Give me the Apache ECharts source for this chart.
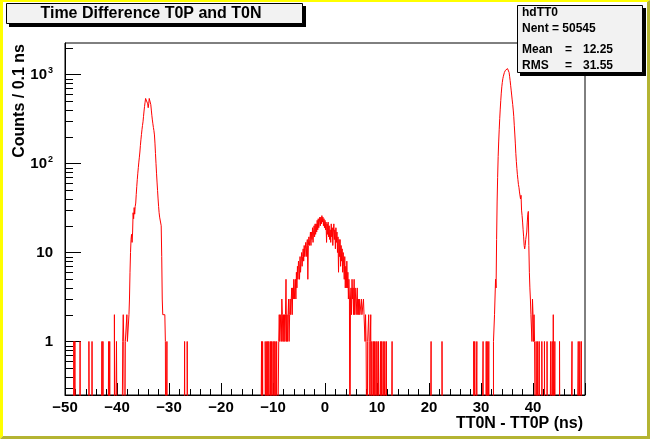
<!DOCTYPE html>
<html>
<head>
<meta charset="utf-8">
<script src="https://cdn.jsdelivr.net/npm/echarts@6/dist/echarts.min.js"></script>
<style>
html,body{margin:0;padding:0;background:#fff;}
#chart{width:650px;height:439px;}
</style>
</head>
<body>
<div id="chart"></div>
<script>
// ---- histogram definition (bins of 0.1 ns from -50 to 50) ----
const xEdgeMin = -50;
const xEdgeMax = 50;
const binWidth = 0.1;

// left peak (T0P side), counts per bin starting at low edge -38.9
const leftPeakStart = -38.9;
const leftPeakCounts = [
  1,2,1,1,0,1,1,1,2,1,1,1,2,3,6,10,14,16,13,17,
  28,24,32,27,33,36,45,55,66,78,90,104,118,135,160,185,212,240,268,295,
  340,390,440,490,540,565,540,520,470,425,470,540,565,520,460,400,350,310,280,255,
  235,210,170,130,100,78,62,50,40,33,28,25,26,24,20,9,3,2,2,2,
  2,2,1,0,0,1
];

// central bump, starting at low edge -12.2
const centerStart = -12.2;
const centerCounts = [
  1,0,1,0,0,0,0,1,1,0,1,0,1,0,1,1,0,1,0,1,
  1,0,1,0,1,0,1,1,0,1,0,0,0,1,2,1,2,2,1,3,
  2,1,2,1,2,1,2,5,1,2,1,2,3,1,2,3,2,2,4,2,
  4,3,5,3,4,5,3,6,4,7,5,8,7,5,9,6,8,10,7,9,
  11,8,12,9,11,13,9,12,14,5,12,15,12,14,17,12,17,14,19,13,
  17,20,15,21,16,21,17,23,18,24,19,22,25,20,25,21,26,22,25,20,
  24,19,23,18,22,13,21,16,22,15,20,14,18,13,21,15,19,12,17,21,
  14,18,11,19,13,17,10,15,6,14,9,14,7,12,8,11,6,10,7,5,
  9,4,7,4,8,4,6,3,5,3,0,3,4,2,5,3,4,2,5,2,
  4,3,2,3,4,2,3,2,3,2,2,2,3,2,2,2,3,2,2,1,
  2,1,1,0,1,1,2,1,0,1,2,0,1,1,0,1,0,1,1,0,
  1,0,1,1,0,1,1,0,0,1,0,1,1,0,1,0,0,1,1,0,
  1
];

// right peak (T0N side), starting at low edge 32.4
const rightPeakStart = 32.4;
const rightPeakCounts = [
  1,1,2,2,5,4,14,37,70,120,175,240,320,410,510,620,730,820,900,960,
  1010,1060,1100,1120,1140,1150,1160,1170,1190,1150,1060,960,860,760,670,590,520,460,400,340,
  270,215,170,130,105,88,75,66,58,54,48,50,40,44,30,26,22,18,15,12,
  11,12,14,14,17,22,27,29,12,6,4,3,2,2,1,3,2,1,2,1,
  1,0,1,1,0,1,1,0,1
];

// isolated bins (low edges) with one or two entries
const singleHitEdges = [
  -48.3,-48.1,-47.1,-45.4,-44.8,-42.9,-42.7,-41.6,-41.4,-40.1,-40.0,
  -27.0,-26.5,
  12.9,20.4,22.5,28.6,28.8,29.2,30.4,31.0,31.2,31.5,
  41.7,42.2,42.7,43.4,43.7,44.2,45.1,47.5,48.7,49.0,49.3
];
const doubleHitEdges = [-40.5, 43.9];

// y-axis (log) range and texts
const yMin = 0.25;
const yMax = 2270;
const statsLines = ['hdTT0', 'Nent = 50545'];
const statsRows = [['Mean', '=', '12.25'], ['RMS', '=', '31.55']];
const titleText = 'Time Difference T0P and T0N';
const xTitle = 'TT0N - TT0P (ns)';
const yTitle = 'Counts / 0.1 ns';

// ---- build bins ----
const nBins = Math.round((xEdgeMax - xEdgeMin) / binWidth);
const counts = new Array(nBins).fill(0);
const binIndex = e => Math.round((e - xEdgeMin) / binWidth);
function put(start, vals) { const i0 = binIndex(start); vals.forEach((v, k) => { counts[i0 + k] = v; }); }
put(leftPeakStart, leftPeakCounts);
put(centerStart, centerCounts);
put(rightPeakStart, rightPeakCounts);
singleHitEdges.forEach(e => { counts[binIndex(e)] = 1; });
doubleHitEdges.forEach(e => { counts[binIndex(e)] = 2; });

const EMPTY_BIN_DRAW = 0.01; // empty bins are drawn below the axis floor and clipped (as ROOT does)
const histData = counts.map((c, i) => [+(xEdgeMin + i * binWidth).toFixed(2), c > 0 ? c : EMPTY_BIN_DRAW]);
histData.push([xEdgeMax, histData[histData.length - 1][1]]);

// minor ticks 2..9 x 10^k on log axis
const yMinorTicks = [];
for (let k = -1; k <= 3; k++) {
  for (let m = 2; m <= 9; m++) {
    const v = m * Math.pow(10, k);
    if (v > yMin && v < yMax) yMinorTicks.push([xEdgeMin, v]);
  }
}

const FONT = "'Liberation Sans', Arial, Helvetica, sans-serif";
const chart = echarts.init(document.getElementById('chart'), null, { renderer: 'canvas' });

const W = 650, H = 439;
const graphics = [
  // canvas bevel border
  { type: 'polygon', z: 100, silent: true,
    shape: { points: [[0,0],[W,0],[W-3,2],[3,2],[3,H-3],[0,H]] }, style: { fill: '#ffff00' } },
  { type: 'polygon', z: 100, silent: true,
    shape: { points: [[W,0],[W,H],[0,H],[3,H-3],[W-3,H-3],[W-3,2]] }, style: { fill: '#b4b432' } },
  // title box
  { type: 'rect', z: 100, shape: { x: 9, y: 6, width: 297, height: 21 }, style: { fill: '#000' } },
  { type: 'rect', z: 101, shape: { x: 6.5, y: 3.5, width: 296, height: 20 }, style: { fill: '#f2f2f2', stroke: '#000', lineWidth: 1 } },
  { type: 'text', z: 102, x: 151, y: 14, style: { text: titleText, font: 'bold 16px ' + FONT, fill: '#000', align: 'center', verticalAlign: 'middle' } },
  // stats box
  { type: 'rect', z: 100, shape: { x: 520, y: 8, width: 126, height: 68 }, style: { fill: '#000' } },
  { type: 'rect', z: 101, shape: { x: 517.5, y: 5.5, width: 125, height: 67 }, style: { fill: '#f2f2f2', stroke: '#000', lineWidth: 1 } },
  { type: 'text', z: 102, x: 522, y: 13, style: { text: statsLines[0], font: 'bold 12px ' + FONT, fill: '#000', verticalAlign: 'middle' } },
  { type: 'text', z: 102, x: 522, y: 29, style: { text: statsLines[1], font: 'bold 12px ' + FONT, fill: '#000', verticalAlign: 'middle' } },
  // axis titles
  { type: 'text', z: 50, x: 583, y: 424, style: { text: xTitle, font: 'bold 16px ' + FONT, fill: '#000', align: 'right', verticalAlign: 'middle' } },
  { type: 'text', z: 50, x: 20, y: 44, rotation: Math.PI / 2, style: { text: yTitle, font: 'bold 16px ' + FONT, fill: '#000', align: 'right', verticalAlign: 'middle' } }
];
statsRows.forEach((row, r) => {
  const y = 50 + r * 16;
  graphics.push({ type: 'text', z: 102, x: 522, y, style: { text: row[0], font: 'bold 12px ' + FONT, fill: '#000', verticalAlign: 'middle' } });
  graphics.push({ type: 'text', z: 102, x: 565, y, style: { text: row[1], font: 'bold 12px ' + FONT, fill: '#000', verticalAlign: 'middle' } });
  graphics.push({ type: 'text', z: 102, x: 583, y, style: { text: row[2], font: 'bold 12px ' + FONT, fill: '#000', verticalAlign: 'middle' } });
});

chart.setOption({
  animation: false,
  backgroundColor: '#ffffff',
  grid: { left: 65, right: 65, top: 43, bottom: 44, show: true, borderColor: '#000', borderWidth: 1, backgroundColor: 'transparent' },
  xAxis: {
    type: 'value', min: xEdgeMin, max: xEdgeMax, interval: 10,
    axisLine: { show: true, onZero: false, lineStyle: { color: '#000', width: 1 } },
    axisTick: { show: true, inside: true, length: 12, lineStyle: { color: '#000' } },
    minorTick: { show: true, splitNumber: 5, length: 6, lineStyle: { color: '#000' } },
    splitLine: { show: false },
    axisLabel: {
      show: true, margin: 5, color: '#000', fontFamily: FONT, fontWeight: 'bold', fontSize: 15,
      showMaxLabel: false,
      formatter: v => (v >= xEdgeMax ? '' : String(v).replace('-', '\u2212'))
    }
  },
  yAxis: {
    type: 'log', logBase: 10, min: yMin, max: yMax,
    axisLine: { show: true, onZero: false, lineStyle: { color: '#000', width: 1 } },
    axisTick: { show: true, inside: true, length: 16, lineStyle: { color: '#000' } },
    minorTick: { show: false },
    splitLine: { show: false },
    axisLabel: {
      show: true, margin: 12, color: '#000', showMinLabel: false, showMaxLabel: false,
      formatter: v => {
        const k = Math.round(Math.log10(v));
        if (k >= 2) return '{b|10}{s|' + k + '}';
        return '{b|' + Math.round(v) + '}';
      },
      rich: {
        b: { fontFamily: FONT, fontWeight: 'bold', fontSize: 15, color: '#000', lineHeight: 18 },
        s: { fontFamily: FONT, fontWeight: 'bold', fontSize: 9, color: '#000', verticalAlign: 'top', lineHeight: 9, padding: [0, 0, 0, 1] }
      }
    }
  },
  series: [
    {
      type: 'line', name: 'hdTT0', data: histData, step: 'end', showSymbol: false, symbol: 'none',
      clip: true, lineStyle: { color: '#ff0000', width: 1 }, z: 3
    },
    {
      type: 'custom', name: 'yMinorTicks', data: yMinorTicks, silent: true, z: 4,
      encode: { x: 0, y: 1 },
      renderItem: (params, api) => {
        const p = api.coord([api.value(0), api.value(1)]);
        const y = Math.round(p[1]) + 0.5;
        return { type: 'line', shape: { x1: p[0], y1: y, x2: p[0] + 8, y2: y }, style: { stroke: '#000', lineWidth: 1 } };
      }
    }
  ],
  graphic: graphics
});
</script>
</body>
</html>
